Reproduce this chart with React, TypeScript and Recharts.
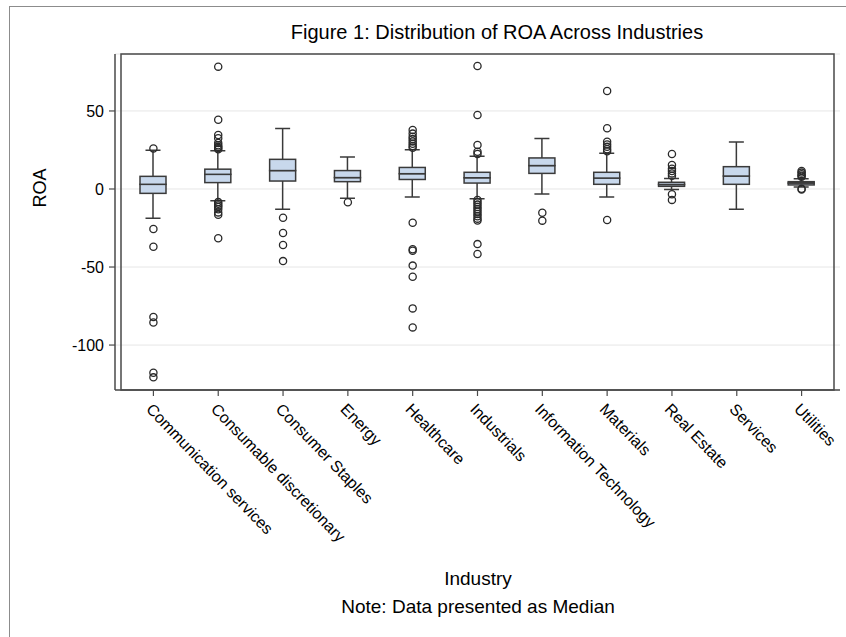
import React from 'react';
import { ComposedChart, Bar, Scatter, XAxis, YAxis, CartesianGrid, ReferenceArea } from 'recharts';

const industries = [
  'Communication services',
  'Consumable discretionary',
  'Consumer Staples',
  'Energy',
  'Healthcare',
  'Industrials',
  'Information Technology',
  'Materials',
  'Real Estate',
  'Services',
  'Utilities',
];
const whiskerLow = [-18.8, -7.5, -13, -6, -5.2, -6.2, -3.2, -5.2, -0.4, -13, 1.2];
const q1 = [-2.8, 4.1, 5.1, 4.7, 6.1, 3.8, 10, 3.0, 1.7, 3, 2.6];
const median = [3.0, 9.4, 11.8, 7.3, 9.8, 7.2, 15, 7.0, 2.9, 8.3, 3.8];
const q3 = [8.1, 12.7, 19, 11.8, 13.8, 10.7, 19.9, 10.7, 4.3, 14.3, 4.7];
const whiskerHigh = [24.8, 24.5, 38.7, 20.5, 25.2, 21, 32.3, 22.9, 6.8, 30.1, 6.5];
const outliers: number[][] = [
  [26, -25.6, -37, -82, -85.5, -117.7, -120.7],
  [78.4, 44.4, 34.6, 32.5, 29.5, 28, 27, 26.2, 25.4, -8.4, -9.5, -10.5, -11.5, -13, -15, -16.5, -31.6],
  [-18.4, -28.2, -35.9, -46.2],
  [-8.5],
  [37.8, 35.5, 33.5, 32, 30.5, 29, 27.5, 26.5, -21.6, -38.6, -39.6, -49.1, -56.2, -76.5, -88.7],
  [78.8, 47.4, 28.2, 23.9, 22.5, -7, -8.5, -10, -11.5, -13, -14.5, -16, -17.5, -19, -20.2, -35.3, -41.7],
  [-15.2, -20.3],
  [62.8, 38.9, 30.3, 28.5, 27, 25.5, 24.2, -19.9],
  [22.4, 15.4, 13, 11.5, 10, 8.5, -3.4, -7],
  [],
  [11.5, 10.5, 9.5, 8.5, 7.8, 0.2, -0.3],
];
const yTicks = [-100, -50, 0, 50];
const yDomain: [number, number] = [-128.8, 86.5];

const FONT = '"Liberation Sans", Arial, sans-serif';
const BOX_FILL = '#c8d8ec';
const EDGE = '#3a3a3a';
const AXIS = '#4a4a4a';

const maxOut = Math.max(...outliers.map((o) => o.length));

const rows = industries.map((name, i) => {
  const row: any = {
    industry: name,
    base: whiskerLow[i],
    lowW: q1[i] - whiskerLow[i],
    lowBox: median[i] - q1[i],
    highBox: q3[i] - median[i],
    highW: whiskerHigh[i] - q3[i],
  };
  for (let k = 0; k < maxOut; k++) {
    row['o' + k] = outliers[i][k];
  }
  return row;
});

const CAP = 15;

const EmptyShape = () => <g />;

const LowWhisker = (p: any) => {
  const cx = p.x + p.width / 2;
  const top = p.y;
  const bot = p.y + p.height;
  return (
    <g>
      <line x1={cx} x2={cx} y1={top} y2={bot} stroke={EDGE} strokeWidth={1.5} />
      <line x1={cx - CAP / 2} x2={cx + CAP / 2} y1={bot} y2={bot} stroke={EDGE} strokeWidth={1.5} />
    </g>
  );
};

const HighWhisker = (p: any) => {
  const cx = p.x + p.width / 2;
  const top = p.y;
  const bot = p.y + p.height;
  return (
    <g>
      <line x1={cx} x2={cx} y1={top} y2={bot} stroke={EDGE} strokeWidth={1.5} />
      <line x1={cx - CAP / 2} x2={cx + CAP / 2} y1={top} y2={top} stroke={EDGE} strokeWidth={1.5} />
    </g>
  );
};

const BoxPart = (p: any) => (
  <rect x={p.x} y={p.y} width={p.width} height={Math.max(p.height, 0)} fill={BOX_FILL} stroke={EDGE} strokeWidth={1.5} />
);

const OutlierDot = (p: any) => {
  if (p.cy == null || p.cx == null || Number.isNaN(p.cy)) return <g />;
  return <circle cx={p.cx} cy={p.cy} r={3.6} fill="none" stroke="#2a2a2a" strokeWidth={1.3} />;
};

const XTick = (props: any) => {
  const { x, y, payload } = props;
  return (
    <text
      x={x}
      y={y}
      dy={6}
      transform={`rotate(46, ${x}, ${y})`}
      textAnchor="start"
      dominantBaseline="central"
      fontSize={16}
      fontFamily={FONT}
      fill="#000"
    >
      {payload.value}
    </text>
  );
};

export default function App() {
  return (
    <div style={{ position: 'absolute', left: 0, top: 0, width: 846, height: 637, overflow: 'hidden', background: '#fff' }}>
      <div
        style={{
          position: 'absolute',
          left: 9,
          top: 6,
          width: 860,
          height: 660,
          border: '1px solid #8c8c8c',
          boxSizing: 'border-box',
        }}
      />
      <div style={{ position: 'absolute', left: 0, top: 0 }}>
        <ComposedChart
          width={846}
          height={637}
          data={rows}
          margin={{ top: 54, right: 6, bottom: 217, left: 55 }}
          stackOffset="none"
          barSize={26}
        >
          <CartesianGrid vertical={false} stroke="#e6e6e6" strokeWidth={1} />
          <XAxis
            dataKey="industry"
            type="category"
            height={30}
            padding={{ left: 6, right: 6 }}
            interval={0}
            tickSize={6}
            tickMargin={6}
            tick={<XTick />}
            axisLine={{ stroke: AXIS, strokeWidth: 1.5 }}
            tickLine={{ stroke: AXIS, strokeWidth: 1.2 }}
          />
          <YAxis
            type="number"
            width={60}
            domain={yDomain}
            ticks={yTicks}
            allowDataOverflow
            tickSize={6}
            tickMargin={5}
            tick={{ fontSize: 16, fontFamily: FONT, fill: '#000' }}
            axisLine={{ stroke: AXIS, strokeWidth: 1.5 }}
            tickLine={{ stroke: AXIS, strokeWidth: 1.2 }}
          />
          <ReferenceArea y1={yDomain[0]} y2={yDomain[1]} fill="none" stroke={AXIS} strokeWidth={1.5} ifOverflow="visible" />
          <Bar dataKey="base" stackId="box" shape={<EmptyShape />} isAnimationActive={false} />
          <Bar dataKey="lowW" stackId="box" shape={<LowWhisker />} isAnimationActive={false} />
          <Bar dataKey="lowBox" stackId="box" shape={<BoxPart />} isAnimationActive={false} />
          <Bar dataKey="highBox" stackId="box" shape={<BoxPart />} isAnimationActive={false} />
          <Bar dataKey="highW" stackId="box" shape={<HighWhisker />} isAnimationActive={false} />
          {Array.from({ length: maxOut }, (_, k) => (
            <Scatter key={k} dataKey={'o' + k} shape={<OutlierDot />} isAnimationActive={false} />
          ))}
        </ComposedChart>
      </div>
      <svg width={846} height={637} style={{ position: 'absolute', left: 0, top: 0, pointerEvents: 'none' }}>
        <text x={497} y={39} textAnchor="middle" fontSize={20} fontFamily={FONT} fill="#000">
          Figure 1: Distribution of ROA Across Industries
        </text>
        <text
          x={40}
          y={188}
          transform="rotate(-90, 40, 188)"
          textAnchor="middle"
          dominantBaseline="central"
          fontSize={18}
          fontFamily={FONT}
          fill="#000"
        >
          ROA
        </text>
        <text x={478} y={585} textAnchor="middle" fontSize={19} fontFamily={FONT} fill="#000">
          Industry
        </text>
        <text x={478} y={613} textAnchor="middle" fontSize={19} fontFamily={FONT} fill="#000">
          Note: Data presented as Median
        </text>
      </svg>
    </div>
  );
}
